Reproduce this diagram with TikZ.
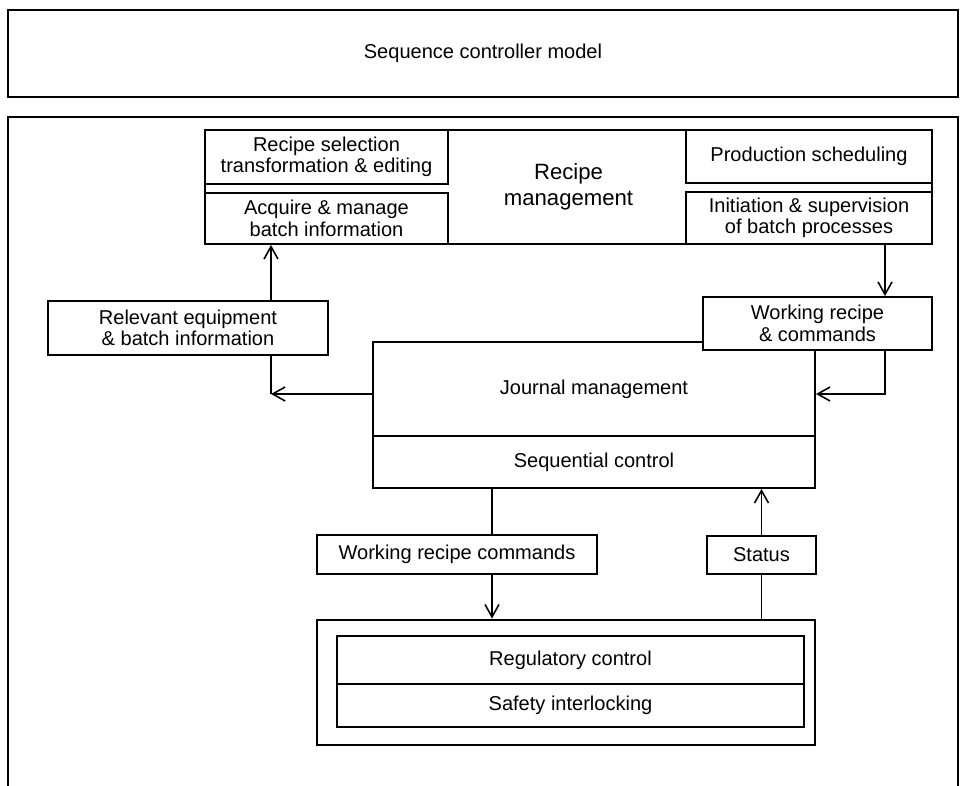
\documentclass[tikz,border=0pt]{standalone}
\usepackage{fontspec}
\setmainfont{Liberation Sans}
\usetikzlibrary{arrows.meta}

\begin{document}
\begin{tikzpicture}[x=0.02cm,y=-0.02cm,
  box/.style={draw,line width=0.6pt,inner sep=0pt,align=center,fill=white,
    font=\fontsize{11.4}{12.3}\selectfont},
  boldbox/.style={box,line width=1.1pt},
  size/.style 2 args={minimum width=#1*0.02cm,minimum height=#2*0.02cm},
  link/.style={line width=0.9pt},
  arr/.style={link,-{Straight Barb[length=2.5mm,width=2.8mm]}}]
\useasboundingbox (0,0) rectangle (961,786);

% model frames
\node[boldbox,size={950}{87}] (title) at (483,53.5) {Sequence controller model};
\draw[line width=1.1pt] (8,786) -- (8,117) -- (958,117) -- (958,786);

% recipe management block
\node[boldbox,size={727}{114},font=\fontsize{12.6}{14.6}\selectfont] (recipe) at (568.5,187) {Recipe\\management};
\node[box,size={243}{54}] (select) at (326.5,157) {Recipe selection\\transformation \& editing};
\node[box,size={243}{51}] (acquire) at (326.5,218.5) {Acquire \& manage\\batch information};
\node[box,size={246}{53}] (sched) at (809,156.5) {Production scheduling};
\node[box,size={246}{52}] (initiate) at (809,218) {Initiation \& supervision\\of batch processes};

\node[boldbox,size={280}{54}] (relevant) at (188,328) {Relevant equipment\\\& batch information};

% sequence controller
\node[boldbox,size={442}{94}] (journal) at (594,389) {Journal management};
\node[boldbox,size={442}{52}] (seq) at (594,462) {Sequential control};
\node[boldbox,size={229}{53}] (working) at (817.5,323.5) {Working recipe\\\& commands};

\node[box,size={280}{39}] (wrc) at (457,554.5) {Working recipe commands};
\node[box,size={109}{38}] (status) at (761.5,555) {Status};

% plant level
\node[boldbox,line width=1.6pt,size={498}{125}] (plant) at (566,682.5) {};
\node[box,size={467}{48}] (reg) at (570.5,660) {Regulatory control};
\node[box,size={467}{43}] (safety) at (570.5,705.5) {Safety interlocking};

% connectors
\coordinate (upleft) at (271,394);
\coordinate (upright) at (885,394);
\coordinate (cmd) at (492,510);

\draw[arr] (upleft |- relevant.north) -- (upleft |- recipe.south);
\draw[arr] (journal.west |- upleft) -- (upleft);
\draw[link] (upleft) -- (upleft |- relevant.south);

\draw[arr] (upright |- recipe.south) -- (upright |- working.north);
\draw[arr] (upright |- working.south) -- (upright) -- (journal.east |- upright);

\draw[link] (cmd |- seq.south) -- (cmd |- wrc.north);
\draw[arr] (cmd |- wrc.south) -- (cmd |- plant.north);

\draw[link] (status |- plant.north) -- (status.south);
\draw[arr] (status.north) -- (status |- seq.south);
\end{tikzpicture}
\end{document}
